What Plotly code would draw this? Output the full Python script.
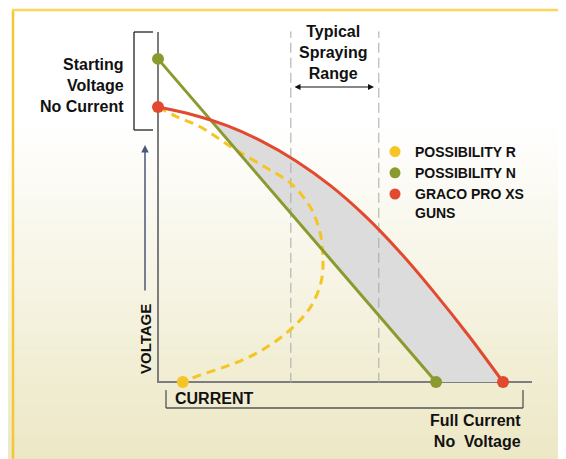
import plotly.graph_objects as go

# ---------------- data (current in % of full, voltage in % of no-load) ----------------
current_red = [0, 10, 20, 30, 40, 50, 60, 70, 80, 90, 100]
voltage_red = [100, 97.2, 93.2, 87.6, 80.4, 71.4, 60.4, 47.4, 32.7, 16.9, 0]

current_green = [0, 80.6]
voltage_green = [117.5, 0]

current_yellow = [0, 4.9, 12.2, 21.7, 31.5, 38.3, 44.1, 47.0, 47.8, 47.4, 44.9, 41.2, 35.4, 28.6, 20.9, 12.2, 7.2]
voltage_yellow = [100, 96.8, 92.8, 85.1, 77.8, 72.4, 63.7, 54.2, 45.6, 37.1, 28.7, 22.5, 16.0, 10.5, 6.2, 2.5, 0]

spray_range = [38.5, 64]          # typical spraying range bounds (current)
cross_current, cross_voltage = 15.4, 95.0   # where green line meets red curve

series_names = ["POSSIBILITY R", "POSSIBILITY N", "GRACO PRO XS<br>GUNS"]
series_colors = ["#f5c523", "#8b9a2f", "#e14a2f"]

# ---------------- layout helpers (page pixel -> paper; page has 8px body margin) ----------------
W, H = 566, 459
OFF = 8
def px(x):
    return (x - OFF) / W
def py(y):
    return 1 - (y - OFF) / H

FONT = "Liberation Sans, Arial, sans-serif"
fig = go.Figure()

# gray region between green line and red curve (filled with tonexty so it follows the spline)
fig.add_trace(go.Scatter(x=[cross_current, current_green[1], current_red[-1]],
                         y=[cross_voltage, voltage_green[1], voltage_red[-1]],
                         mode="lines", line=dict(width=0, color="#dcdcdc"),
                         showlegend=False, hoverinfo="skip"))
top_x = [cross_current] + [c for c in current_red if c > cross_current]
top_y = [cross_voltage] + [v for c, v in zip(current_red, voltage_red) if c > cross_current]
fig.add_trace(go.Scatter(x=top_x, y=top_y, mode="lines", fill="tonexty", fillcolor="#dcdcdc",
                         line=dict(width=0, color="#dcdcdc", shape="spline", simplify=False),
                         showlegend=False, hoverinfo="skip"))

# typical spraying range dashed lines
for b in spray_range:
    fig.add_trace(go.Scatter(x=[b, b], y=[-0.3, 127.5], mode="lines",
                             line=dict(color="#a8a8a8", width=1, dash="10px,5px"),
                             showlegend=False, hoverinfo="skip"))

# yellow dashed curve
fig.add_trace(go.Scatter(x=current_yellow, y=voltage_yellow, mode="lines",
                         line=dict(color=series_colors[0], width=3, dash="9px,6px",
                                   shape="spline", simplify=False),
                         showlegend=False))
fig.add_trace(go.Scatter(x=current_yellow[-1:], y=voltage_yellow[-1:], mode="markers",
                         marker=dict(color=series_colors[0], size=12), showlegend=False))
# green line
fig.add_trace(go.Scatter(x=current_green, y=voltage_green, mode="lines+markers",
                         line=dict(color=series_colors[1], width=3),
                         marker=dict(color=series_colors[1], size=12), showlegend=False))
# red curve
fig.add_trace(go.Scatter(x=current_red, y=voltage_red, mode="lines",
                         line=dict(color=series_colors[2], width=3, shape="spline", simplify=False),
                         showlegend=False))
fig.add_trace(go.Scatter(x=[current_red[0], current_red[-1]], y=[voltage_red[0], voltage_red[-1]],
                         mode="markers", marker=dict(color=series_colors[2], size=12), showlegend=False))

# legend entries
for n, c in zip(series_names, series_colors):
    fig.add_trace(go.Scatter(x=[None], y=[None], mode="markers", name=n,
                             marker=dict(color=c, size=11)))

# ---------------- decorations ----------------
shapes = []
# background gradient (white -> pale cream)
top, bottom = 120, H + OFF
n = 60
c0 = (255, 255, 255)
c1 = (236, 231, 196)
for i in range(n):
    y0 = top + (bottom - top) * i / n
    y1 = top + (bottom - top) * (i + 1) / n + 0.5
    t = (i + 0.5) / n
    col = "rgb(%d,%d,%d)" % tuple(round(c0[k] + (c1[k] - c0[k]) * t) for k in range(3))
    shapes.append(dict(type="rect", xref="paper", yref="paper", x0=0, x1=1,
                       y0=py(y1), y1=py(y0), fillcolor=col, line=dict(width=0), layer="below"))

def seg(x0, y0, x1, y1, color, width, layer="above"):
    shapes.append(dict(type="line", xref="paper", yref="paper", x0=px(x0), y0=py(y0),
                       x1=px(x1), y1=py(y1), line=dict(color=color, width=width), layer=layer))

# yellow frame
seg(13, 10, 13, H + 10, "#f4c737", 2.5)
seg(12, 10, 564, 10, "#fbd65a", 2.5)
seg(563, 10, 563, H + 10, "#fbd65a", 2.5)
# axes
seg(158, 32, 158, 382, "#7d7d7d", 2, "below")
seg(157, 382, 532, 382, "#7d7d7d", 2, "below")
# y bracket
seg(134, 32, 134, 130, "#222222", 1.3)
seg(134, 32, 153, 32, "#222222", 1.3)
seg(134, 130, 153, 130, "#222222", 1.3)
# x bracket
seg(166, 390, 166, 408, "#555555", 1.3)
seg(166, 408, 523, 408, "#555555", 1.3)
seg(523, 390, 523, 408, "#555555", 1.3)

ann = []
def text(x, y, s, xanchor="center", align="center", size=16, angle=0):
    ann.append(dict(x=px(x), y=py(y), xref="paper", yref="paper", text=s, showarrow=False,
                    xanchor=xanchor, yanchor="middle", align=align, textangle=angle,
                    font=dict(family=FONT, size=size, color="#111111", weight="bold")))

text(126, 85, "Starting<br>Voltage<br>No Current", xanchor="right", align="right")
text(333, 53, "Typical<br>Spraying<br>Range")
text(173, 398, "CURRENT", xanchor="left", align="left")
text(523, 431, "Full Current<br>No\u00a0 Voltage", xanchor="right", align="right")
text(145, 339, "VOLTAGE", size=15, angle=-90)

# double arrow for spraying range
ann.append(dict(x=px(374), y=py(87), ax=-81, ay=0, xref="paper", yref="paper",
                axref="pixel", ayref="pixel", text="", showarrow=True, arrowside="end+start",
                arrowhead=2, startarrowhead=2, arrowsize=1, startarrowsize=1, arrowwidth=1.2,
                arrowcolor="#111111"))
# voltage arrow
ann.append(dict(x=px(145), y=py(145), ax=0, ay=147, xref="paper", yref="paper",
                axref="pixel", ayref="pixel", text="", showarrow=True,
                arrowhead=2, arrowsize=1, arrowwidth=1.5, arrowcolor="#4a5878"))

# data ranges chosen so that current 0 -> page x 158, 100 -> 503; voltage 0 -> page y 382, 100 -> 107
x_lo = (OFF - 158) / 3.45
x_hi = (OFF + W - 158) / 3.45
y_hi = (382 - OFF) / 2.75
y_lo = (382 - OFF - H) / 2.75

fig.update_layout(
    width=W, height=H,
    margin=dict(l=0, r=0, t=0, b=0),
    paper_bgcolor="white", plot_bgcolor="rgba(0,0,0,0)",
    xaxis=dict(range=[x_lo, x_hi], visible=False, domain=[0, 1], fixedrange=True),
    yaxis=dict(range=[y_lo, y_hi], visible=False, domain=[0, 1], fixedrange=True),
    shapes=shapes, annotations=ann,
    showlegend=True,
    legend=dict(x=px(375), y=py(136), xanchor="left", yanchor="top", bgcolor="rgba(0,0,0,0)",
                font=dict(family=FONT, size=14, color="#111111", weight="bold"),
                itemwidth=30, tracegroupgap=0, valign="top", traceorder="normal"),
)

fig.write_html("out.html")
